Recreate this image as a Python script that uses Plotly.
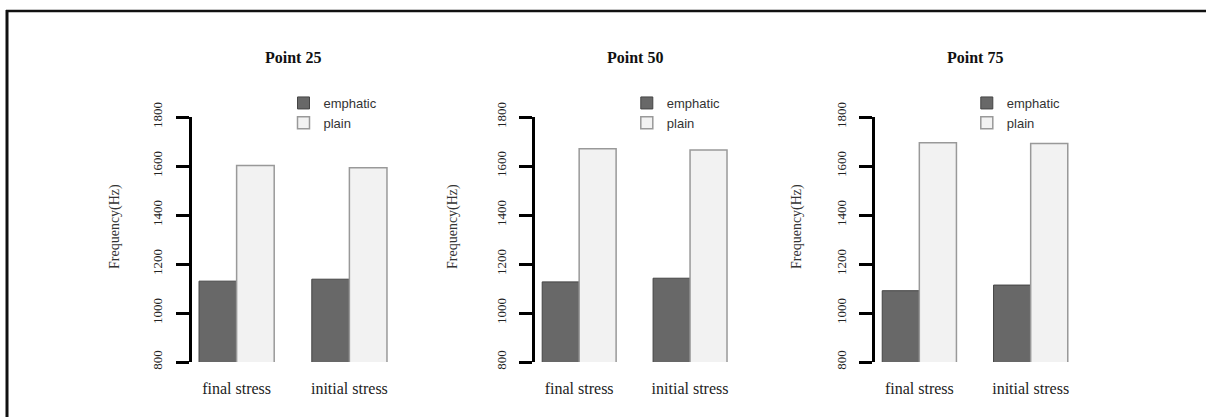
import plotly.graph_objects as go

W, H = 1206, 417

categories = ["final stress", "initial stress"]
series_names = ["emphatic", "plain"]
panel_titles = ["Point 25", "Point 50", "Point 75"]
emphatic_values = [[1130, 1138], [1127, 1142], [1091, 1114]]
plain_values = [[1602, 1593], [1670, 1665], [1695, 1692]]
y_ticks = [800, 1000, 1200, 1400, 1600, 1800]
y_title = "Frequency(Hz)"

# pixel geometry
panel_x = [(191.5, 394.5), (534.8, 734.4), (874.8, 1075.2)]
ylab_x = [115, 453, 797]
y_top_px, y_bot_px = 117, 362

def px(x):
    return x / W

def py(y):
    return 1 - y / H

serif = "Times New Roman, Liberation Serif, serif"
sans = "Arial, Liberation Sans, Helvetica, sans-serif"

fig = go.Figure()
colors = {"emphatic": ("#686868", "#444444", 1.0), "plain": ("#f2f2f2", "#999999", 1.5)}

for i in range(3):
    xa = "x" if i == 0 else f"x{i+1}"
    ya = "y" if i == 0 else f"y{i+1}"
    lg = "legend" if i == 0 else f"legend{i+1}"
    for name, vals in (("emphatic", emphatic_values[i]), ("plain", plain_values[i])):
        fc, lc, lw = colors[name]
        fig.add_trace(go.Bar(
            x=categories, y=vals, name=name, xaxis=xa, yaxis=ya, legend=lg,
            marker=dict(color=fc, line=dict(color=lc, width=lw)),
            hoverinfo="skip",
        ))

layout = dict(
    width=W, height=H, autosize=False,
    margin=dict(l=0, r=0, t=0, b=0, pad=0, autoexpand=False),
    paper_bgcolor="white", plot_bgcolor="white",
    barmode="group", bargap=1/3, bargroupgap=0,
    showlegend=True,
)

for i in range(3):
    sfx = "" if i == 0 else str(i + 1)
    x0, x1 = panel_x[i]
    layout["xaxis" + sfx] = dict(
        domain=[px(x0), px(x1)], anchor="y" + sfx,
        type="category", categoryorder="array", categoryarray=categories,
        range=[-0.4, 1.4], showline=False, showgrid=False, zeroline=False,
        ticks="", tickfont=dict(family=serif, size=16, color="#222"),
        ticklabelstandoff=15, fixedrange=True, automargin=False,
    )
    layout["yaxis" + sfx] = dict(
        domain=[py(y_bot_px), py(y_top_px)], anchor="x" + sfx,
        range=[800, 1800], tickvals=y_ticks, ticktext=[str(t) for t in y_ticks],
        showline=True, linewidth=3, linecolor="black",
        ticks="outside", ticklen=13, tickwidth=3, tickcolor="black",
        tickangle=-90, tickfont=dict(family=serif, size=13, color="#222"),
        ticklabelstandoff=8, automargin=False,
        showgrid=False, zeroline=False, fixedrange=True,
    )
    lgkey = "legend" if i == 0 else f"legend{i+1}"
    layout[lgkey] = dict(
        x=px(x0 + 132 - 40), y=py(88), xanchor="left", yanchor="top",
        font=dict(family=sans, size=13, color="#333"),
        bgcolor="rgba(0,0,0,0)", borderwidth=0,
    )

fig.update_layout(**layout)

for i in range(3):
    x0, x1 = panel_x[i]
    fig.add_annotation(
        x=px((x0 + x1) / 2), y=py(57), xref="paper", yref="paper",
        text=f"<b>{panel_titles[i]}</b>", showarrow=False,
        font=dict(family=serif, size=16, color="#111"),
        xanchor="center", yanchor="middle",
    )
    fig.add_annotation(
        x=px(ylab_x[i]), y=py(227), xref="paper", yref="paper",
        text=y_title, showarrow=False, textangle=-90,
        font=dict(family=serif, size=14, color="#333"),
        xanchor="center", yanchor="middle",
    )

# outer frame (top and left)
fig.add_shape(type="line", xref="paper", yref="paper",
              x0=px(6), x1=1, y0=py(11), y1=py(11),
              line=dict(color="#111", width=2.5))
fig.add_shape(type="line", xref="paper", yref="paper",
              x0=px(7), x1=px(7), y0=py(10), y1=0,
              line=dict(color="#111", width=3))

fig.write_html("out.html", config={"displayModeBar": False},
               post_script="document.body.style.margin='0px';")
